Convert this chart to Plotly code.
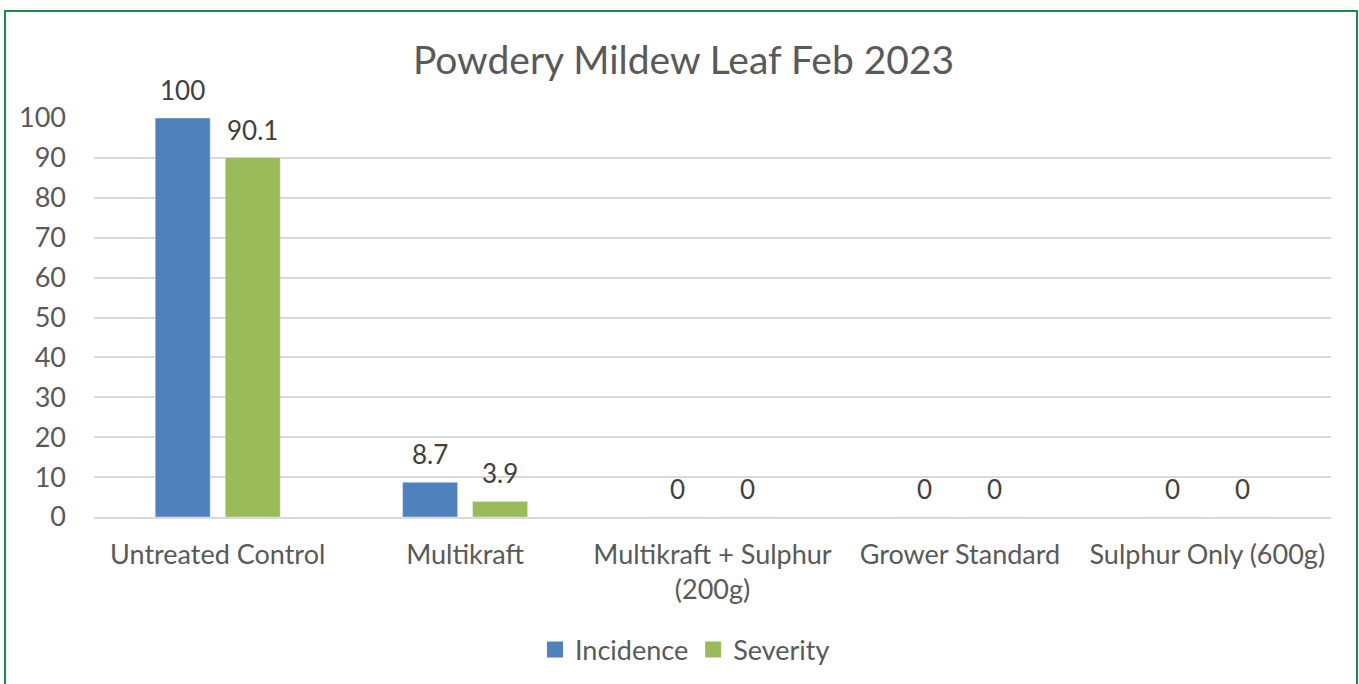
import plotly.graph_objects as go

categories = ["Untreated Control", "Multikraft", "Multikraft + Sulphur<br>(200g)", "Grower Standard", "Sulphur Only (600g)"]
series_names = ["Incidence", "Severity"]
incidence = [100, 8.7, 0, 0, 0]
severity = [90.1, 3.9, 0, 0, 0]
y_ticks = [0, 10, 20, 30, 40, 50, 60, 70, 80, 90, 100]

FONT = "Lato, Open Sans, sans-serif"
TXT = "#595959"
COLORS = ["#4F81BD", "#9BBB59"]
FS = 26
FS_TICK = 27

fig = go.Figure()
for name, vals, col in zip(series_names, [incidence, severity], COLORS):
    fig.add_trace(go.Bar(name=name, x=categories, y=vals, marker_color=col, showlegend=False))
# value labels, anchored on the data through the axes
for vals, dx in zip([incidence, severity], [-35, 35]):
    for c, v in zip(categories, vals):
        fig.add_annotation(x=c, y=v, xref="x", yref="y", text=str(v), showarrow=False,
                           xshift=dx, yshift=10, yanchor="bottom",
                           font=dict(size=FS, color="#404040", family=FONT))
# legend entries with larger square swatches
for name, col in zip(series_names, COLORS):
    fig.add_trace(go.Scatter(name=name, x=[None], y=[None], mode="markers",
                             marker=dict(symbol="square", size=17, color=col), showlegend=True))

L, R, T, B = 94, 1331, 118, 517
W, H = R - L, B - T

def px(x):
    return (x - L) / W

def py(y):
    return (B - y) / H

fig.update_layout(
    width=1359, height=684,
    margin=dict(l=L, r=1359 - R, t=T, b=684 - B, autoexpand=False),
    paper_bgcolor="white", plot_bgcolor="white",
    barmode="group", bargap=0.434, bargroupgap=0.214,
    font=dict(family=FONT, color=TXT, size=FS),
    title=dict(text="Powdery Mildew Leaf Feb 2023", x=0.503, xanchor="center",
               y=1 - 60 / 684, yanchor="middle", font=dict(size=39, color=TXT, family=FONT)),
    xaxis=dict(showgrid=False, showline=True, linecolor="#D9D9D9", linewidth=1.5,
               ticks="", tickfont=dict(size=FS_TICK, color=TXT), ticklabelstandoff=13),
    yaxis=dict(range=[0, 100], tickvals=y_ticks, showgrid=True, gridcolor="#D9D9D9", gridwidth=1.5,
               zeroline=False, ticks="", tickfont=dict(size=FS_TICK, color=TXT), ticklabelstandoff=27),
    legend=dict(orientation="h", x=px(685), xanchor="center", y=py(650), yanchor="middle",
                font=dict(size=FS_TICK, color=TXT), traceorder="normal", itemwidth=30),
    showlegend=True,
    shapes=[dict(type="rect", xref="paper", yref="paper", x0=px(5), x1=px(1357), y0=py(700), y1=py(11),
                 line=dict(color="#1A8A4E", width=2), fillcolor="rgba(0,0,0,0)", layer="below")],
)

fig.write_html("out.html", config={"displayModeBar": False},
               post_script="document.body.style.margin='0';")
